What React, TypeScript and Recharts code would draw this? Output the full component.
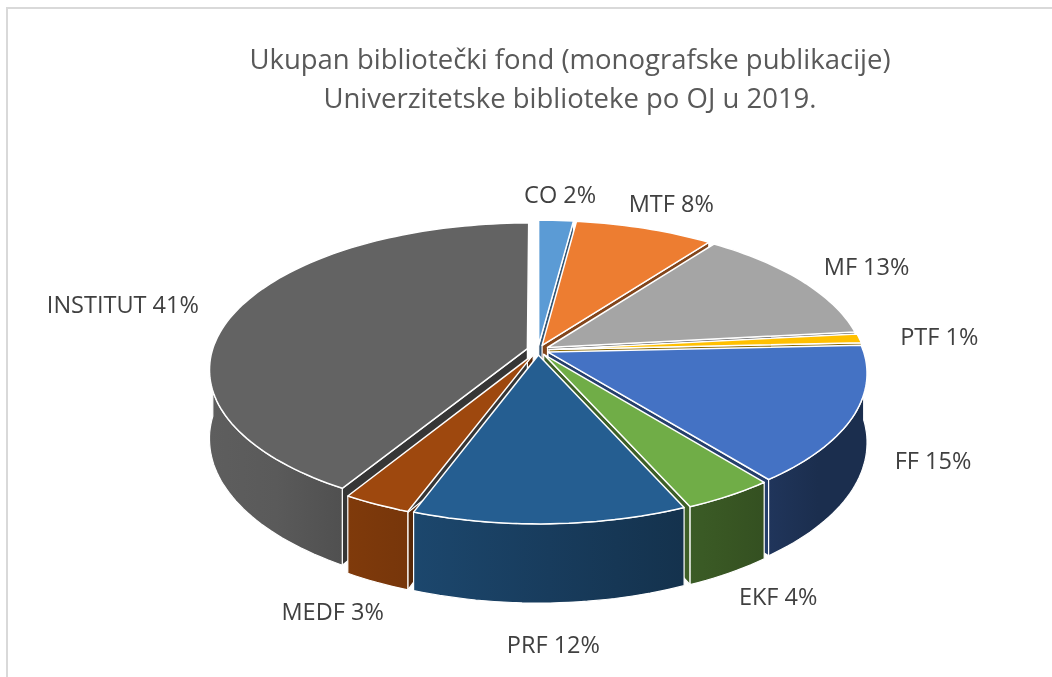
import { PieChart, Pie } from 'recharts';

const categories = ['CO', 'MTF', 'MF', 'PTF', 'FF', 'EKF', 'PRF', 'MEDF', 'INSTITUT'];
const shares = [2, 8, 13, 1, 15, 4, 12, 3, 41];
const colors = ['#5B9BD5', '#ED7D31', '#A5A5A5', '#FFC000', '#4472C4', '#70AD47', '#255E91', '#9E480E', '#636363'];
const titleLines = ['Ukupan bibliotečki fond (monografske publikacije)', 'Univerzitetske biblioteke po OJ u 2019.'];

const data = categories.map((name, i) => ({ name, value: shares[i], fill: colors[i] }));

// fake 3d look: tilt + a bit of perspective, depth and explode
const RAD = Math.PI / 180;
const TILT = 0.456;
const PERSP = 0.14;
const DEPTH = 0.215;
const EXPLODE = 0.035;
const FONT = '"Open Sans", sans-serif';
const LABEL_SIZE = 23.5;

const geo = (p: any) => {
  const tm = -p.midAngle;
  return {
    cx: p.cx,
    cy: p.cy,
    r: p.outerRadius,
    ox: EXPLODE * Math.cos(tm * RAD),
    oy: EXPLODE * Math.sin(tm * RAD),
    t0: -p.startAngle,
    t1: -p.endAngle,
  };
};

const pt = (g: any, t: number, rr: number, h: number) => {
  const u = g.ox + rr * Math.cos(t * RAD);
  const v = g.oy + rr * Math.sin(t * RAD);
  const w = 1 - PERSP * v;
  return [g.cx + (g.r * u) / w, g.cy + (g.r * TILT * v) / w + (h * g.r * DEPTH) / w];
};

const arc = (g: any, a: number, b: number, h: number) => {
  const n = Math.max(2, Math.ceil(Math.abs(b - a) / 1.5));
  const out: number[][] = [];
  for (let i = 0; i <= n; i++) out.push(pt(g, a + ((b - a) * i) / n, 1, h));
  return out;
};

const toPath = (pts: number[][]) => 'M' + pts.map((p) => `${p[0].toFixed(1)},${p[1].toFixed(1)}`).join('L') + 'Z';

const shade = (hex: string, f: number) => {
  const n = parseInt(hex.slice(1), 16);
  const c = [(n >> 16) & 255, (n >> 8) & 255, n & 255].map((x) => Math.round(x * f));
  return `rgb(${c.join(',')})`;
};

const light = (t: number) => Math.max(0.4, 0.65 - 0.3 * Math.cos(t * RAD));

const WallShape = (p: any) => {
  const g = geo(p);
  const walls: number[] = [];
  if (Math.cos(g.t0 * RAD) < -0.001) walls.push(g.t0);
  if (Math.cos(g.t1 * RAD) > 0.001) walls.push(g.t1);
  return (
    <g>
      {walls.map((t) => (
        <path
          key={t}
          d={toPath([pt(g, 0, 0, 0), pt(g, t, 1, 0), pt(g, t, 1, 1), pt(g, 0, 0, 1)])}
          fill={shade(p.fill, 0.55)}
          stroke='#fff'
          strokeWidth={1.2}
          strokeLinejoin='round'
        />
      ))}
    </g>
  );
};

const SideShape = (p: any) => {
  const g = geo(p);
  const segs: number[][] = [];
  for (let k = -1; k <= 1; k++) {
    const lo = Math.max(g.t0, 360 * k);
    const hi = Math.min(g.t1, 360 * k + 180);
    if (hi > lo) segs.push([lo, hi]);
  }
  return (
    <g>
      {segs.map(([a, b], i) => {
        const id = `side-${p.name}-${i}`;
        const pts = [...arc(g, a, b, 0), ...arc(g, b, a, 1)];
        return (
          <g key={id}>
            <defs>
              <linearGradient id={id} x1='1' y1='0' x2='0' y2='0'>
                <stop offset='0' stopColor={shade(p.fill, light(a))} />
                <stop offset='0.5' stopColor={shade(p.fill, light((a + b) / 2))} />
                <stop offset='1' stopColor={shade(p.fill, light(b))} />
              </linearGradient>
            </defs>
            <path d={toPath(pts)} fill={`url(#${id})`} stroke='#fff' strokeWidth={1.2} strokeLinejoin='round' />
          </g>
        );
      })}
    </g>
  );
};

const TopShape = (p: any) => {
  const g = geo(p);
  const pts = [pt(g, 0, 0, 0), ...arc(g, g.t0, g.t1, 0)];
  return <path d={toPath(pts)} fill={p.fill} stroke='#fff' strokeWidth={1.5} strokeLinejoin='round' />;
};

const renderLabel = (p: any) => {
  const t = -p.midAngle;
  const g = { cx: p.cx, cy: p.cy, r: p.outerRadius, ox: 0, oy: 0 };
  const s = Math.sin(t * RAD);
  const c = Math.cos(t * RAD);
  const [x, y] = pt(g, t, 1.17, Math.max(0, s));
  const text = `${p.name} ${p.value}%`;
  const halfW = (text.length * LABEL_SIZE * 0.55) / 2;
  return (
    <text
      key={p.name}
      x={x + halfW * c}
      y={y + 12 * s}
      textAnchor='middle'
      dominantBaseline='central'
      fill='#404040'
      fontSize={LABEL_SIZE}
      fontFamily={FONT}
    >
      {text}
    </text>
  );
};

const pieProps = {
  data,
  dataKey: 'value',
  nameKey: 'name',
  cx: 525,
  cy: 337,
  outerRadius: 315,
  startAngle: 90,
  endAngle: -270,
  stroke: 'none',
  isAnimationActive: false,
};

const App = () => {
  return (
    <div style={{ position: 'relative', width: 1036, height: 661 }}>
      <div
        style={{
          position: 'fixed',
          left: 6,
          top: 7,
          width: 1046,
          height: 670,
          boxSizing: 'border-box',
          borderTop: '2px solid #d9d9d9',
          borderLeft: '2px solid #d9d9d9',
        }}
      />
      <div
        style={{
          position: 'absolute',
          left: 112,
          top: 31,
          width: 900,
          textAlign: 'center',
          fontFamily: FONT,
          fontSize: 27.5,
          lineHeight: '39px',
          color: '#595959',
        }}
      >
        {titleLines.map((l) => (
          <div key={l}>{l}</div>
        ))}
      </div>
      <PieChart width={1036} height={661}>
        <Pie {...pieProps} shape={WallShape} />
        <Pie {...pieProps} shape={SideShape} />
        <Pie {...pieProps} shape={TopShape} label={renderLabel} labelLine={false} />
      </PieChart>
    </div>
  );
};

export default App;
